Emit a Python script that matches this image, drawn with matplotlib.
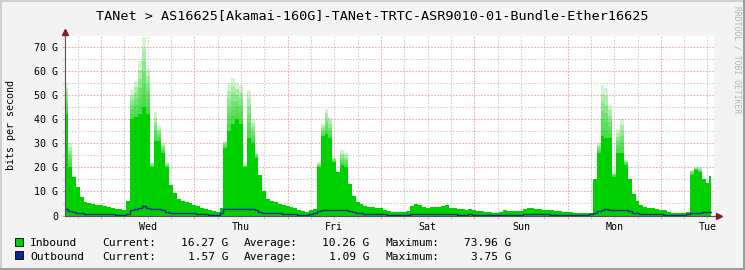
import matplotlib
matplotlib.use("Agg")
import matplotlib.pyplot as plt
from matplotlib.lines import Line2D
from matplotlib.patches import Rectangle
import numpy as np

plt.rcParams['font.family'] = ['DejaVu Sans Mono']

title = "TANet > AS16625[Akamai-160G]-TANet-TRTC-ASR9010-01-Bundle-Ether16625"
days = ["Wed", "Thu", "Fri", "Sat", "Sun", "Mon", "Tue"]

# hours counted from Wed 00:00, one sample per hour
hours = list(range(-9, 158))

# inbound, Gbit/s (solid part of the area)
inbound = (
    [42, 20, 16, 12, 7.5, 5.8, 5.2, 4.8, 4.5]
    + [4.2, 3.8, 3.5, 3.2, 2.8, 2.5, 2.2, 6, 40, 41, 42, 45, 42, 20, 31, 31, 26, 20, 12.5, 9.5, 7, 6, 5.5, 5]
    + [4.3, 3.8, 3.3, 2.8, 2.3, 1.9, 1.6, 3, 28, 35, 38, 40, 38, 20, 32, 30, 24, 17, 10, 7, 6, 5.5, 4.8, 4.3]
    + [4.0, 3.6, 3.2, 2.2, 1.8, 1.6, 2.2, 2.6, 20, 33, 34, 32, 22, 18, 21, 20, 13, 8, 5.5, 4.6, 4.0, 3.6, 3.5, 3.3]
    + [3.0, 2.4, 1.9, 1.5, 1.4, 1.3, 1.3, 2.0, 3.8, 4.6, 4.2, 3.4, 3.3, 3.4, 3.6, 3.5, 4.0, 4.3, 3.2, 3.0, 2.8, 2.5, 2.4, 2.6]
    + [2.1, 1.9, 1.8, 1.6, 1.4, 1.2, 1.1, 1.3, 2.2, 2.0, 1.9, 1.8, 1.9, 2.6, 3.0, 3.2, 2.8, 2.5, 2.4, 2.3, 2.2, 2.0, 1.9, 1.6]
    + [1.5, 1.4, 1.1, 1.0, 1.0, 0.9, 1.0, 15, 26, 33, 32, 32, 16, 26, 26, 21, 15, 9, 6, 4.2, 3.4, 3.2, 3.0, 2.8]
    + [2.4, 2.2, 1.5, 1.2, 1.1, 1.0, 1.0, 1.5, 17, 19, 18, 15, 13.5, 16.3]
)

# faded spike tops above the solid area
peak_hours = [-9, -8, 8, 9, 10, 11, 12, 13, 14, 15, 16, 17,
              32, 33, 34, 35, 36, 37, 38, 39, 40,
              56, 57, 58, 59, 60, 62, 63,
              128, 129, 130, 131, 132, 133, 134, 135,
              152, 153, 154]
peak_vals = [55, 30, 52, 56, 64, 73.96, 61, 22, 43, 37, 30, 22,
             31, 55, 57, 55, 54, 21, 52, 40, 26,
             22, 38, 44, 41, 24, 27, 26,
             30, 54, 53, 46, 18, 36, 40, 23,
             19, 20, 20]

# outbound, Gbit/s
outbound = (
    [2.6, 2.0, 1.6, 1.2, 0.9, 0.7, 0.6, 0.6, 0.6]
    + [0.6, 0.5, 0.5, 0.5, 0.4, 0.4, 0.4, 0.8, 2.4, 2.9, 3.2, 3.75, 3.0, 2.7, 2.6, 2.5, 2.2, 1.6, 1.1, 1.0, 1.0, 1.0, 1.0, 0.9]
    + [0.9, 0.7, 0.6, 0.5, 0.4, 0.4, 0.4, 1.0, 2.5, 2.8, 2.8, 2.7, 2.6, 2.8, 2.9, 2.6, 2.2, 1.6, 1.2, 1.0, 0.9, 0.9, 0.9, 0.8]
    + [0.8, 0.7, 0.6, 0.4, 0.3, 0.3, 0.5, 1.2, 1.9, 2.1, 2.3, 2.3, 2.2, 2.3, 2.2, 2.4, 1.8, 1.3, 1.0, 0.9, 0.8, 0.8, 0.7, 0.7]
    + [0.6, 0.5, 0.4, 0.3, 0.3, 0.3, 0.3, 0.4, 0.6, 0.6, 0.5, 0.5, 0.5, 0.6, 0.6, 0.5, 0.6, 0.6, 0.5, 0.5, 0.4, 0.4, 0.4, 0.5]
    + [0.4, 0.3, 0.3, 0.3, 0.3, 0.3, 0.3, 0.3, 0.4, 0.4, 0.4, 0.4, 0.4, 0.5, 0.5, 0.6, 0.5, 0.5, 0.5, 0.5, 0.4, 0.4, 0.4, 0.3]
    + [0.3, 0.3, 0.3, 0.3, 0.3, 0.3, 0.5, 1.2, 2.0, 2.3, 2.5, 2.3, 2.2, 2.3, 2.2, 2.3, 1.8, 1.2, 0.9, 0.8, 0.7, 0.7, 0.6, 0.6]
    + [0.5, 0.4, 0.4, 0.3, 0.3, 0.3, 0.3, 0.6, 1.0, 1.1, 1.2, 1.5, 1.6, 1.57]
)

legend_names = ["Inbound", "Outbound"]
legend_colors = ["#00CF00", "#002A97"]
stat_labels = ["Current:", "Average:", "Maximum:"]
stat_values = [["16.27 G", "10.26 G", "73.96 G"],
               ["1.57 G", "1.09 G", "3.75 G"]]

W, H = 745, 270
BG = "#F3F3F3"
RED_GRID = "#F0A4A4"
GREY_GRID = "#CDCDCD"

fig = plt.figure(figsize=(W / 100, H / 100), dpi=100, facecolor=BG)

# plot box in pixels: x 64.5..713.5, y 35.5..215.5
px_l, px_r, px_t, px_b = 64.5, 713.5, 35.5, 215.5
ax = fig.add_axes([px_l / W, 1 - px_b / H, (px_r - px_l) / W, (px_b - px_t) / H])
ax.set_facecolor("white")
for s in ax.spines.values():
    s.set_visible(False)

peak = np.array(inbound, dtype=float)
for h, v in zip(peak_hours, peak_vals):
    peak[hours.index(h)] = v
base = np.array(inbound, dtype=float)

ax.fill_between(hours, 0, base, step="mid", color="#00CF00", lw=0, zorder=3)
n_layers = 6
for k in range(1, n_layers + 1):
    top = base + (peak - base) * k / n_layers
    ax.fill_between(hours, base, top, step="mid", color="#00CF00", alpha=0.18, lw=0, zorder=3)
ax.plot(hours, outbound, drawstyle="steps-mid", color="#002A97", lw=1.0, zorder=4)

ax.set_xlim(-9.4, 157.55)
ax.set_ylim(0, 74.7)

midnights = [24 * i for i in range(0, 7)]
six_hours = [h for h in range(-6, 157, 6) if h % 24 != 0]
ax.set_xticks(midnights)
ax.set_xticks(six_hours, minor=True)
ax.set_xticklabels([""] * len(midnights))
ax.set_xticklabels([days[h // 24] if h % 24 == 12 else "" for h in six_hours], minor=True)

ax.set_yticks(range(0, 71, 10))
ax.set_yticks(range(5, 75, 10), minor=True)
ax.set_yticklabels(["0" if v == 0 else f"{v} G" for v in range(0, 71, 10)])

ax.set_axisbelow(True)
dots = (0, (1.5, 1.5))
ax.grid(which="major", color=RED_GRID, ls=dots, lw=0.75)
ax.grid(which="minor", color=GREY_GRID, ls=dots, lw=0.75)

ax.tick_params(axis="x", which="major", length=2.2, width=0.75, color=RED_GRID, pad=2.5)
ax.tick_params(axis="x", which="minor", length=2.2, width=0.75, color=GREY_GRID, pad=2.5,
               labelsize=7.2, labelcolor="black")
ax.tick_params(axis="y", which="major", length=2.0, width=0.75, color=RED_GRID, pad=2.7,
               labelsize=7.2)
ax.tick_params(axis="y", which="minor", length=2.0, width=0.75, color=GREY_GRID)

# axis lines with arrow heads
axis_col = "#555555"
arrow_col = "#7F1F1F"
ax.plot([0, 0], [0, 1.015], transform=ax.transAxes, color=axis_col, lw=0.8, clip_on=False, zorder=5)
ax.plot([0, 1.006], [0, 0], transform=ax.transAxes, color=axis_col, lw=0.8, clip_on=False, zorder=5)
ax.plot([0], [1.022], marker="^", ms=4, color=arrow_col, transform=ax.transAxes, clip_on=False, zorder=6)
ax.plot([1.0085], [0], marker=">", ms=4, color=arrow_col, transform=ax.transAxes, clip_on=False, zorder=6)

fig.text(372.5 / W, 1 - 19.5 / H, title, ha="center", va="baseline", fontsize=9.7, color="black")
fig.text(11 / W, 1 - 125.5 / H, "bits per second", rotation=90, ha="center", va="center",
         fontsize=7.2)
fig.text(737 / W, 1 - 60 / H, "RRDTOOL / TOBI OETIKER", rotation=270, ha="center", va="center",
         fontsize=5.8, color="#B4B4B4")

# legend rows
row_base = [246, 259.5]
for i, name in enumerate(legend_names):
    yb = row_base[i]
    fig.add_artist(Rectangle((15 / W, 1 - (yb - 0.3) / H), 8 / W, 8 / H,
                             facecolor=legend_colors[i], edgecolor="black", lw=0.6,
                             transform=fig.transFigure))
    fig.text(30 / W, 1 - yb / H, name, ha="left", va="baseline", fontsize=8.1)
    for j, lab in enumerate(stat_labels):
        fig.text([102, 244, 386][j] / W, 1 - yb / H, lab, ha="left", va="baseline", fontsize=8.1)
        fig.text([228.5, 369.5, 511.5][j] / W, 1 - yb / H, stat_values[i][j], ha="right",
                 va="baseline", fontsize=8.1)

# frame around the picture
fig.add_artist(Line2D([0, 1], [1 - 0.5 / H] * 2, color="#CFCFCF", lw=1.4, transform=fig.transFigure))
fig.add_artist(Line2D([0.5 / W] * 2, [0, 1], color="#CFCFCF", lw=1.4, transform=fig.transFigure))
fig.add_artist(Line2D([0, 1], [1 / H] * 2, color="#9B9B9B", lw=1.4, transform=fig.transFigure))
fig.add_artist(Line2D([1 - 1 / W] * 2, [0, 1], color="#9B9B9B", lw=1.4, transform=fig.transFigure))

fig.savefig("out.png", dpi=100, facecolor=BG)
